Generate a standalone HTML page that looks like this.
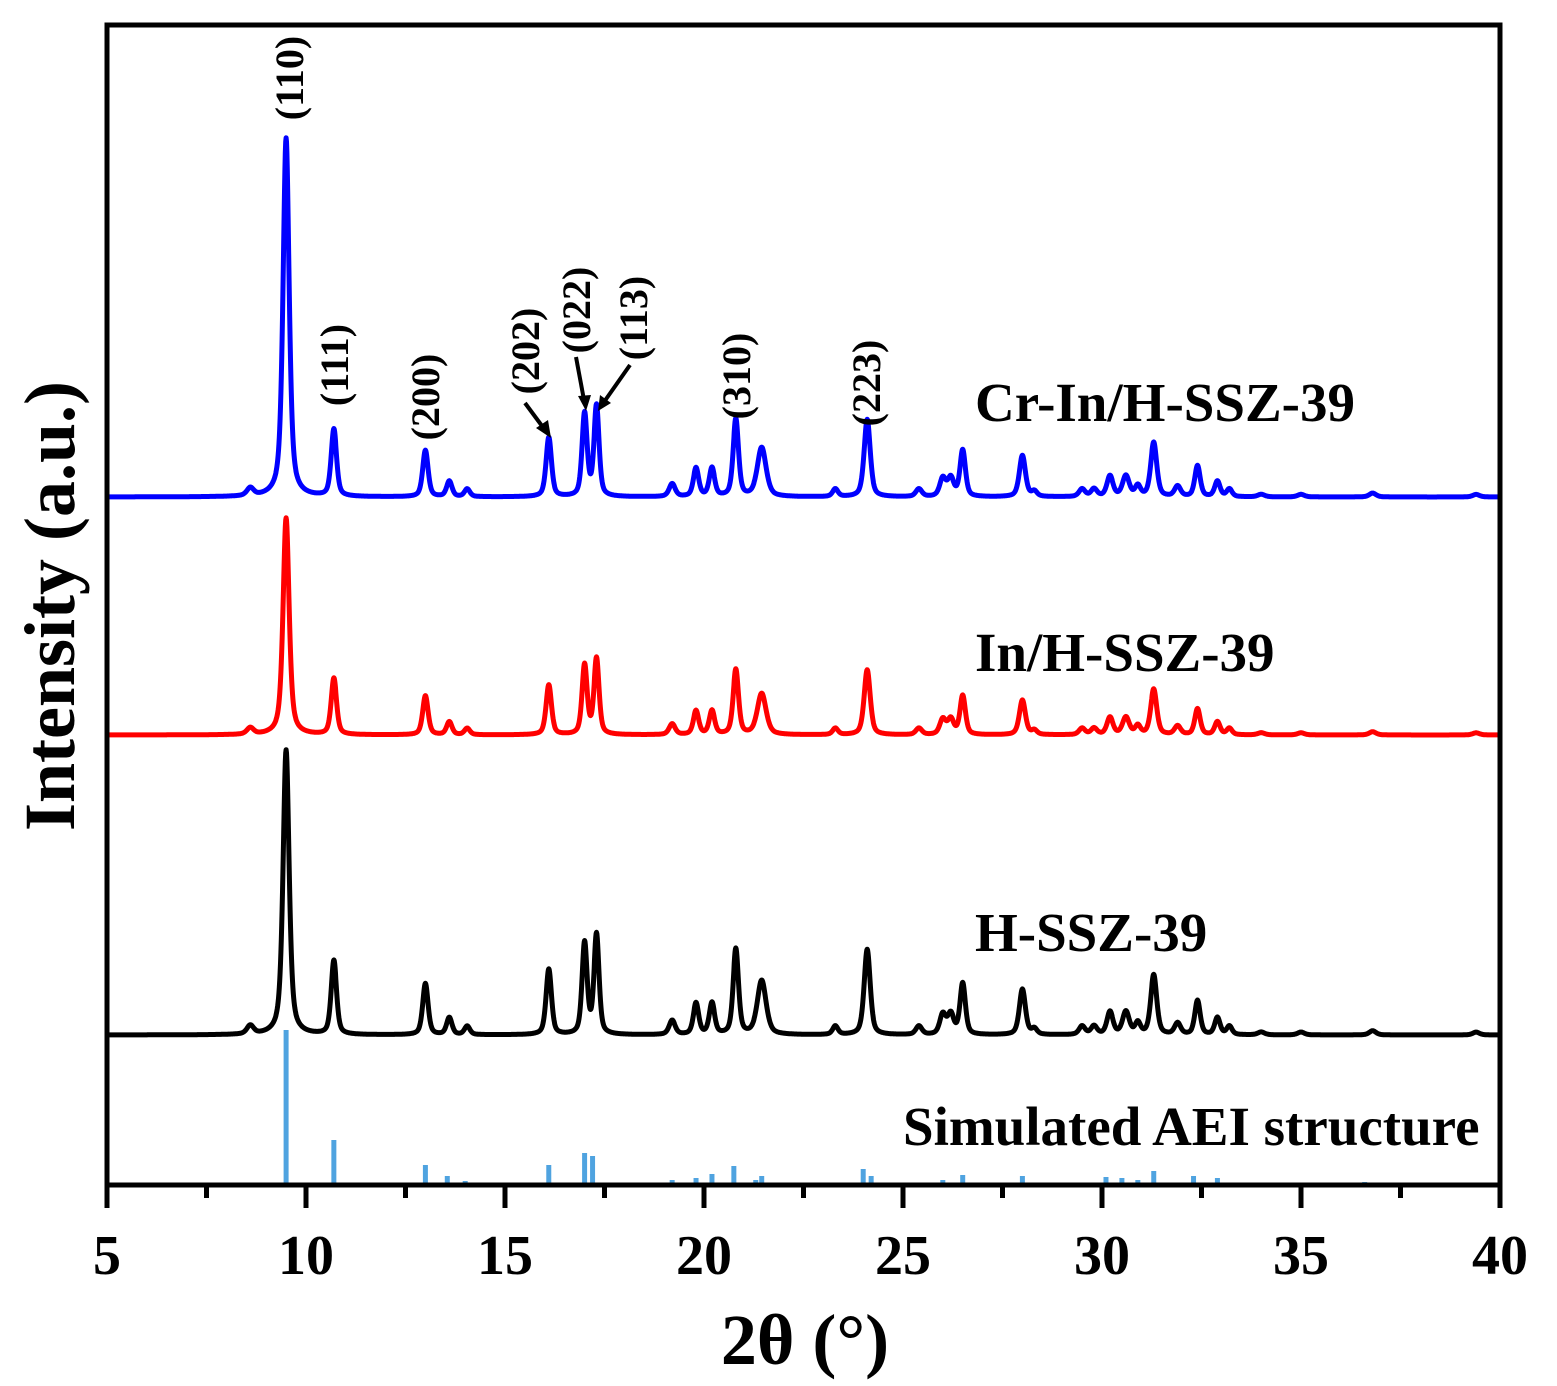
<!DOCTYPE html>
<html><head><meta charset="utf-8"><style>
html,body{margin:0;padding:0;background:#fff;}
svg{display:block;font-family:"Liberation Serif",serif;font-weight:bold;}
</style></head><body>
<svg id="s" width="1557" height="1386" viewBox="0 0 1557 1386" xmlns="http://www.w3.org/2000/svg">
<g id="curves"></g>
<g id="sticks" stroke="#4fa3e0" stroke-width="5"></g>
<rect x="107" y="25" width="1393" height="1160" fill="none" stroke="#000" stroke-width="5"/>
<g id="ticks" stroke="#000" stroke-width="5"></g>
<g font-size="56" text-anchor="middle">
<text x="107" y="1274">5</text><text x="306" y="1274">10</text><text x="505" y="1274">15</text><text x="704" y="1274">20</text><text x="903" y="1274">25</text><text x="1102" y="1274">30</text><text x="1301" y="1274">35</text><text x="1500" y="1274">40</text>
</g>
<text x="805" y="1364" font-size="72" text-anchor="middle">2θ (°)</text>
<text transform="translate(74,606) rotate(-90)" font-size="72" text-anchor="middle">Intensity (a.u.)</text>
<g font-size="55">
<text x="975" y="421">Cr-In/H-SSZ-39</text>
<text x="975" y="671">In/H-SSZ-39</text>
<text x="975" y="951">H-SSZ-39</text>
<text x="903" y="1145">Simulated AEI structure</text>
</g>
<g font-size="40" text-anchor="middle">
<text transform="translate(303,78) rotate(-90)">(110)</text>
<text transform="translate(348,365) rotate(-90)">(111)</text>
<text transform="translate(439,397) rotate(-90)">(200)</text>
<text transform="translate(539,351) rotate(-90)">(202)</text>
<text transform="translate(590,310) rotate(-90)">(022)</text>
<text transform="translate(647,318) rotate(-90)">(113)</text>
<text transform="translate(750,376) rotate(-90)">(310)</text>
<text transform="translate(880,383) rotate(-90)">(223)</text>
</g>
<g stroke="#000" stroke-width="4">
<line x1="525" y1="403" x2="545" y2="430"/>
<line x1="576" y1="357" x2="584" y2="400"/>
<line x1="630" y1="365" x2="604" y2="402"/>
</g>
<g fill="#000">
<polygon points="551,438 536,428 548,420"/>
<polygon points="586,411 578,396 591,395"/>
<polygon points="598,411 600,395 611,403"/>
</g>
</svg>
<script>
var NS="http://www.w3.org/2000/svg";
function X(t){return 107+(t-5)*39.8;}
var base=[[8.6,.03,.1],[10.7,.26,.08],[13.0,.18,.08],[13.6,.06,.08],[14.05,.03,.08],[16.1,.23,.08],[17.0,.32,.075],[17.3,.35,.075],[19.2,.05,.09],[19.8,.11,.08],[20.2,.11,.08],[20.8,.30,.08],[21.45,.19,.13],[23.3,.03,.08],[24.1,.30,.09],[25.4,.03,.09],[26.0,.07,.09],[26.2,.07,.09],[26.5,.18,.08],[28.0,.16,.09],[28.3,.02,.08],[29.5,.03,.09],[29.8,.03,.09],[30.2,.08,.09],[30.6,.08,.1],[30.9,.04,.08],[31.3,.21,.09],[31.9,.04,.09],[32.4,.12,.08],[32.9,.06,.08],[33.2,.03,.08],[34.0,.01,.1],[35,.01,.1],[36.8,.015,.1],[39.4,.01,.1]];
function curve(b,h,sec,color){
 var d="";
 for(var t=5;t<=40;t+=0.01){
  var y=0;
  var g=(t-9.5)/0.09; y+=h*(0.6/(1+g*g)+0.4*Math.exp(-g*g*0.69));
  for(var i=0;i<base.length;i++){var p=base[i];var u=(t-p[0])/p[2];y+=h*p[1]*sec*(0.5/(1+u*u)+0.5*Math.exp(-u*u*0.69));}
  d+=(d?"L":"M")+X(t).toFixed(1)+","+(b-y).toFixed(1);
 }
 var p=document.createElementNS(NS,"path");p.setAttribute("d",d);p.setAttribute("fill","none");p.setAttribute("stroke",color);p.setAttribute("stroke-width","5");p.setAttribute("stroke-linejoin","round");
 document.getElementById("curves").appendChild(p);
}
curve(497,359,0.72,"#0000ff");
curve(735,217,1.0,"#ff0000");
curve(1035,285,1.0,"#000000");
var st=[[9.5,1030],[10.7,1140],[13.0,1165],[13.55,1176],[14.0,1181],[16.1,1165],[17.0,1153],[17.2,1156],[19.2,1180],[19.8,1178],[20.2,1174],[20.75,1166],[21.3,1180],[21.45,1176],[24.0,1169],[24.2,1176],[26.0,1180],[26.5,1175],[28.0,1176],[30.1,1177],[30.5,1178],[30.9,1180],[31.3,1171],[32.3,1176],[32.9,1178],[36.6,1182]];
var sg=document.getElementById("sticks");
st.forEach(function(s){var l=document.createElementNS(NS,"line");l.setAttribute("x1",X(s[0]));l.setAttribute("x2",X(s[0]));l.setAttribute("y1",s[1]);l.setAttribute("y2",1184);sg.appendChild(l);});
var tg=document.getElementById("ticks");
for(var t=5;t<=40;t+=2.5){var l=document.createElementNS(NS,"line");l.setAttribute("x1",X(t));l.setAttribute("x2",X(t));l.setAttribute("y1",1185);l.setAttribute("y2",(t%5==0)?1208:1198);tg.appendChild(l);}
</script>
</body></html>
